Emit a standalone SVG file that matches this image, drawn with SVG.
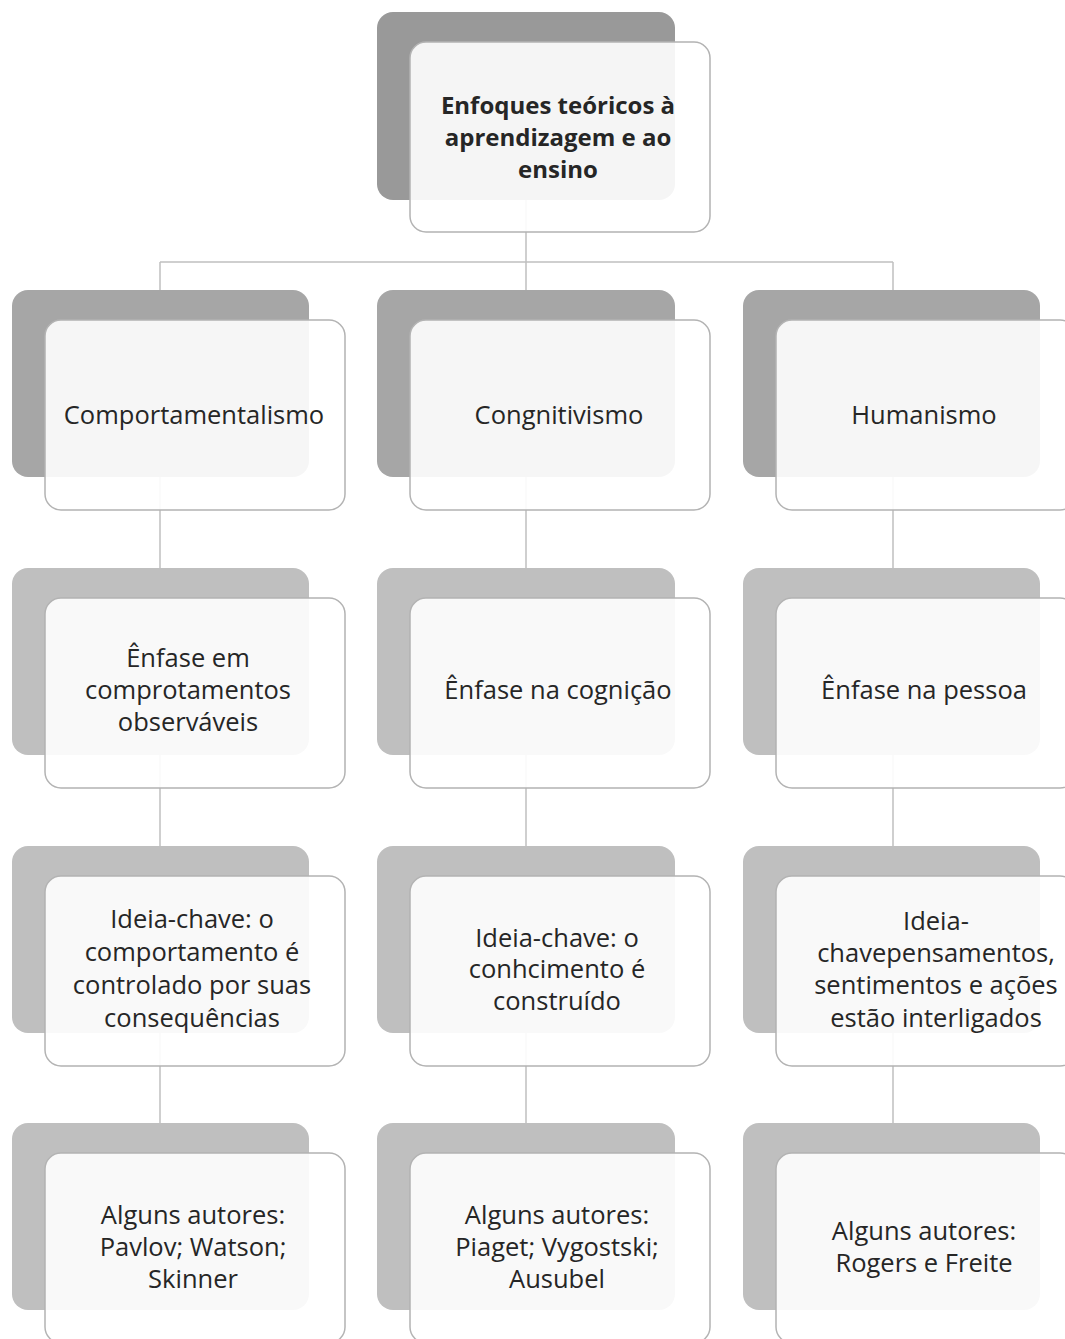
<svg xmlns="http://www.w3.org/2000/svg" width="1065" height="1339" viewBox="0 0 1065 1339">
<style>
.bk1{fill:#999999}
.bk2{fill:#a6a6a6}
.bk3{fill:#bfbfbf}
.fr{fill:#ffffff;fill-opacity:0.9;stroke:#b3b3b3;stroke-width:1.5}
.cn{stroke:#c0c0c0;stroke-width:1.5;fill:none}
text{font-family:"Open Sans","Noto Sans",sans-serif;font-size:25.5px;fill:#262626;text-anchor:middle;dominant-baseline:central}
.b{font-weight:bold;font-size:24px}
</style>
<rect width="1065" height="1339" fill="#ffffff"/>
<g id="connectors">
<path class="cn" d="M526 200V262M160 262H893M160 262V290M526 262V290M893 262V290"/>
<path class="cn" d="M160 477V568M526 477V568M893 477V568"/>
<path class="cn" d="M160 755V846M526 755V846M893 755V846"/>
<path class="cn" d="M160 1033V1123M526 1033V1123M893 1033V1123"/>
</g>
<g id="root">
<rect class="bk1" x="377" y="12" width="298" height="188" rx="16"/>
<rect class="fr" x="410" y="42" width="300" height="190" rx="16"/>
<text class="b" x="558" y="104">Enfoques teóricos à</text>
<text class="b" x="558" y="136">aprendizagem e ao</text>
<text class="b" x="558" y="168">ensino</text>
</g>
<g id="comportamentalismo">
<rect class="bk2" x="12" y="290" width="297" height="187" rx="16"/>
<rect class="fr" x="45" y="320" width="300" height="190" rx="16"/>
<text x="194" y="414">Comportamentalismo</text>
</g>
<g id="congnitivismo">
<rect class="bk2" x="377" y="290" width="298" height="187" rx="16"/>
<rect class="fr" x="410" y="320" width="300" height="190" rx="16"/>
<text x="559" y="414">Congnitivismo</text>
</g>
<g id="humanismo">
<rect class="bk2" x="743" y="290" width="297" height="187" rx="16"/>
<rect class="fr" x="776" y="320" width="300" height="190" rx="16"/>
<text x="924" y="414">Humanismo</text>
</g>
<g id="enfase-comp">
<rect class="bk3" x="12" y="568" width="297" height="187" rx="16"/>
<rect class="fr" x="45" y="598" width="300" height="190" rx="16"/>
<text x="188" y="657">Ênfase em</text>
<text x="188" y="689">comprotamentos</text>
<text x="188" y="721">observáveis</text>
</g>
<g id="enfase-cog">
<rect class="bk3" x="377" y="568" width="298" height="187" rx="16"/>
<rect class="fr" x="410" y="598" width="300" height="190" rx="16"/>
<text x="558" y="689">Ênfase na cognição</text>
</g>
<g id="enfase-pessoa">
<rect class="bk3" x="743" y="568" width="297" height="187" rx="16"/>
<rect class="fr" x="776" y="598" width="300" height="190" rx="16"/>
<text x="924" y="689">Ênfase na pessoa</text>
</g>
<g id="ideia-comp">
<rect class="bk3" x="12" y="846" width="297" height="187" rx="16"/>
<rect class="fr" x="45" y="876" width="300" height="190" rx="16"/>
<text x="192" y="918">Ideia-chave: o</text>
<text x="192" y="951">comportamento é</text>
<text x="192" y="984">controlado por suas</text>
<text x="192" y="1017">consequências</text>
</g>
<g id="ideia-cog">
<rect class="bk3" x="377" y="846" width="298" height="187" rx="16"/>
<rect class="fr" x="410" y="876" width="300" height="190" rx="16"/>
<text x="557" y="937">Ideia-chave: o</text>
<text x="557" y="968">conhcimento é</text>
<text x="557" y="1000">construído</text>
</g>
<g id="ideia-hum">
<rect class="bk3" x="743" y="846" width="297" height="187" rx="16"/>
<rect class="fr" x="776" y="876" width="300" height="190" rx="16"/>
<text x="936" y="920">Ideia-</text>
<text x="936" y="952">chavepensamentos,</text>
<text x="936" y="984">sentimentos e ações</text>
<text x="936" y="1017">estão interligados</text>
</g>
<g id="autores-comp">
<rect class="bk3" x="12" y="1123" width="297" height="187" rx="16"/>
<rect class="fr" x="45" y="1153" width="300" height="190" rx="16"/>
<text x="193" y="1214">Alguns autores:</text>
<text x="193" y="1246">Pavlov; Watson;</text>
<text x="193" y="1278">Skinner</text>
</g>
<g id="autores-cog">
<rect class="bk3" x="377" y="1123" width="298" height="187" rx="16"/>
<rect class="fr" x="410" y="1153" width="300" height="190" rx="16"/>
<text x="557" y="1214">Alguns autores:</text>
<text x="557" y="1246">Piaget; Vygostski;</text>
<text x="557" y="1278">Ausubel</text>
</g>
<g id="autores-hum">
<rect class="bk3" x="743" y="1123" width="297" height="187" rx="16"/>
<rect class="fr" x="776" y="1153" width="300" height="190" rx="16"/>
<text x="924" y="1230">Alguns autores:</text>
<text x="924" y="1262">Rogers e Freite</text>
</g>
</svg>
